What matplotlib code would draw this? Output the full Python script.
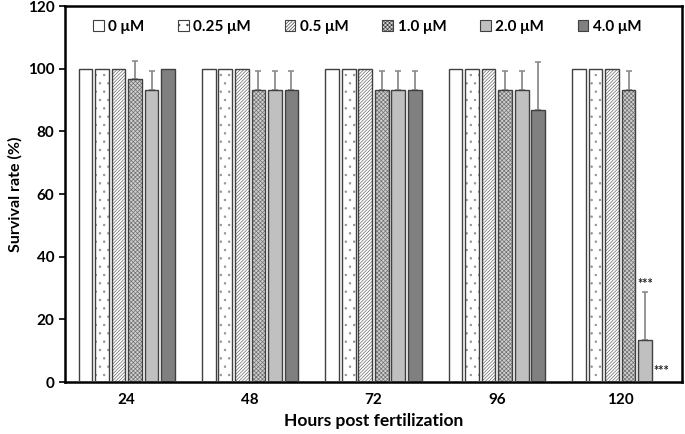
import numpy as np
import matplotlib
matplotlib.use('Agg')
import matplotlib.pyplot as plt
from matplotlib.patches import Patch

plt.rcParams['font.family'] = ['Lato', 'DejaVu Sans']
plt.rcParams['font.weight'] = 'bold'
plt.rcParams['hatch.linewidth'] = 0.5

hours = ['24', '48', '72', '96', '120']
doses = ['0 μM', '0.25 μM', '0.5 μM', '1.0 μM', '2.0 μM', '4.0 μM']

# survival (%) per dose, one value per time point
survival = [
    [100, 100, 100, 100, 100],
    [100, 100, 100, 100, 100],
    [100, 100, 100, 100, 100],
    [96.7, 93.3, 93.3, 93.3, 93.3],
    [93.3, 93.3, 93.3, 93.3, 13.3],
    [100, 93.3, 93.3, 86.7, 0],
]
errors = [
    [0, 0, 0, 0, 0],
    [0, 0, 0, 0, 0],
    [0, 0, 0, 0, 0],
    [5.8, 5.8, 5.8, 5.8, 5.8],
    [5.8, 5.8, 5.8, 5.8, 15.3],
    [0, 5.8, 5.8, 15.3, 0],
]

# style of each dose: face colour, hatch, hatch colour
faces = ['white', 'white', 'white', '#d0d0d0', '#c0c0c0', '#808080']
hatches = [None, '..', '//////////', 'xxxxxxxx', None, None]
hatch_cols = ['#404040', '#909090', '#6a6a6a', '#707070', '#404040', '#404040']

fig = plt.figure(figsize=(6.85, 4.34), dpi=100)
ax = fig.add_axes([65 / 685, 1 - 382 / 434, 617 / 685, 376 / 434])

x = np.arange(len(hours))
pitch = 0.134
width = 0.111
for i in range(len(doses)):
    pos = x + (i - 2.5) * pitch
    # fill + hatch layer
    ax.bar(pos, survival[i], width, color=faces[i], hatch=hatches[i],
           edgecolor=hatch_cols[i], linewidth=0, zorder=2)
    # outline layer
    ax.bar(pos, survival[i], width, fill=False, edgecolor='#404040',
           linewidth=1.0, zorder=3)
    err = np.array(errors[i], dtype=float)
    mask = err > 0
    if mask.any():
        ax.errorbar(pos[mask], np.array(survival[i])[mask],
                    yerr=[np.zeros(mask.sum()), err[mask]],
                    fmt='none', ecolor='#8c8c8c', elinewidth=1.3,
                    capsize=2.5, capthick=1.2, zorder=1)

# significance marks at 120 h
ax.text(x[4] + 1.5 * pitch, 29.5, '***', ha='center', va='bottom',
        fontsize=9, color='#222222')
ax.text(x[4] + 2.5 * pitch, 1.5, '***', ha='center', va='bottom',
        fontsize=9, color='#222222')

ax.set_xlim(-0.5, 4.5)
ax.set_ylim(0, 120)
ax.set_yticks(range(0, 121, 20))
ax.set_xticks(x)
ax.set_xticklabels(hours)
ax.tick_params(axis='x', length=0, pad=8, labelsize=11)
ax.tick_params(axis='y', direction='out', length=4, width=1.2, labelsize=11)
for s in ax.spines.values():
    s.set_linewidth(1.8)

ax.set_ylabel('Survival rate (%)', fontsize=11.5, fontweight='bold')
ax.set_xlabel('Hours post fertilization', fontsize=12.5, fontweight='bold',
              labelpad=4)

handles = [Patch(facecolor=faces[i], hatch=hatches[i], edgecolor='#404040',
                 linewidth=0.8) for i in range(len(doses))]
ax.legend(handles, doses, ncol=6, loc='upper center',
          bbox_to_anchor=(0.49, 1.0), frameon=False, fontsize=11,
          handlelength=0.7, handleheight=0.7, handletextpad=0.3,
          columnspacing=2.2)

fig.savefig('out.png', dpi=100)
